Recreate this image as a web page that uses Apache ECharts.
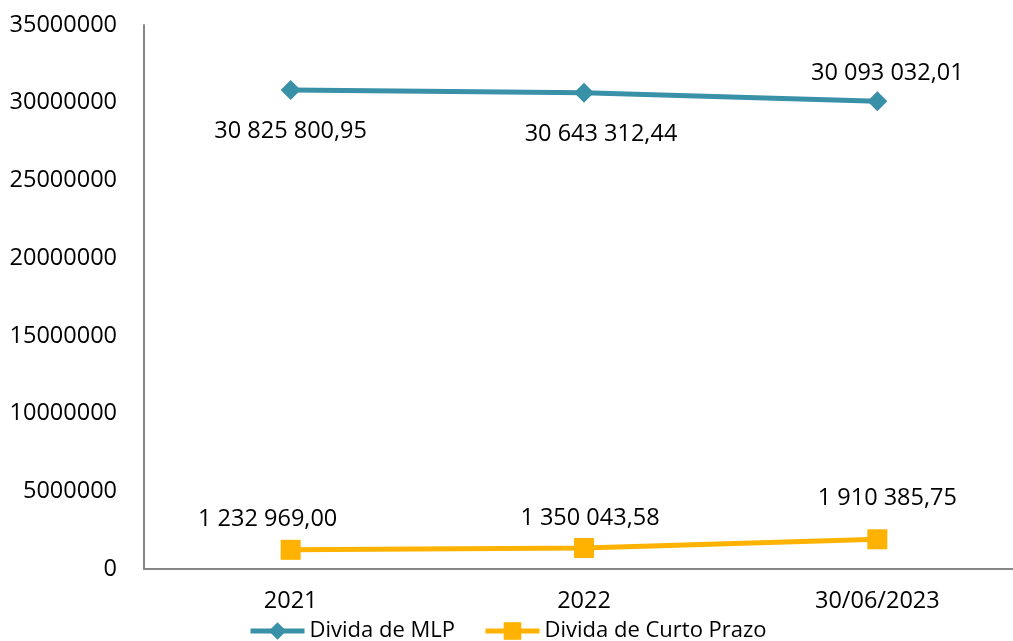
<!DOCTYPE html>
<html>
<head>
<meta charset="utf-8">
<script src="https://cdn.jsdelivr.net/npm/echarts@6/dist/echarts.min.js"></script>
<style>
  html, body { margin: 0; padding: 0; background: #fff; }
  #chart { width: 1013px; height: 641px; }
</style>
</head>
<body>
<div id="chart"></div>
<script>
const categories = ['2021', '2022', '30/06/2023']
const dividaMLP = [30825800.95, 30643312.44, 30093032.01]
const dividaCurto = [1232969.00, 1350043.58, 1910385.75]
const yTicks = { min: 0, max: 35000000, interval: 5000000 }

// 30 825 800,95
function fmt(v) {
  const parts = v.toFixed(2).split('.')
  return parts[0].replace(/\B(?=(\d{3})+(?!\d))/g, ' ') + ',' + parts[1]
}

const font = 'Open Sans'
const mlpOffsets = [[0, 41], [17, 42], [10, -28]]
const curtoOffsets = [[-23, -31], [6, -30], [10, -41]]

function withLabels(values, offsets) {
  return values.map((v, i) => ({
    value: v,
    label: { offset: offsets[i] }
  }))
}

const chart = echarts.init(document.getElementById('chart'))
chart.setOption({
  animation: false,
  textStyle: { fontFamily: font },
  grid: {
    left: 144, top: 25, width: 880, height: 544,
    containLabel: false,
    outerBoundsMode: 'none'
  },
  legend: {
    left: 243,
    top: 615,
    itemWidth: 54,
    itemHeight: 22,
    itemGap: 28,
    lineStyle: { width: 5 },
    textStyle: { fontFamily: font, fontSize: 22, color: '#000' },
    data: ['Divida de MLP', 'Divida de Curto Prazo']
  },
  xAxis: {
    type: 'category',
    data: categories,
    axisLine: { lineStyle: { color: '#868686', width: 2 } },
    axisTick: { show: false },
    axisLabel: { color: '#000', fontSize: 23.5, fontFamily: font, margin: 20 }
  },
  yAxis: {
    type: 'value',
    min: yTicks.min,
    max: yTicks.max,
    interval: yTicks.interval,
    axisLine: { show: true, lineStyle: { color: '#868686', width: 2 } },
    axisTick: { show: false },
    splitLine: { show: false },
    axisLabel: {
      color: '#000', fontSize: 23.5, fontFamily: font, margin: 27,
      formatter: v => String(v)
    }
  },
  series: [
    {
      name: 'Divida de MLP',
      type: 'line',
      symbol: 'diamond',
      symbolSize: 20,
      color: '#3891A7',
      lineStyle: { width: 5, color: '#3891A7' },
      itemStyle: { color: '#3891A7' },
      label: {
        show: true,
        position: 'inside',
        fontSize: 23.5,
        fontFamily: font,
        color: '#000',
        formatter: p => fmt(p.value)
      },
      data: withLabels(dividaMLP, mlpOffsets)
    },
    {
      name: 'Divida de Curto Prazo',
      type: 'line',
      symbol: 'rect',
      symbolSize: 20,
      color: '#FFB300',
      lineStyle: { width: 5, color: '#FFB300' },
      itemStyle: { color: '#FFB300' },
      label: {
        show: true,
        position: 'inside',
        fontSize: 23.5,
        fontFamily: font,
        color: '#000',
        formatter: p => fmt(p.value)
      },
      data: withLabels(dividaCurto, curtoOffsets)
    }
  ]
})
</script>
</body>
</html>
